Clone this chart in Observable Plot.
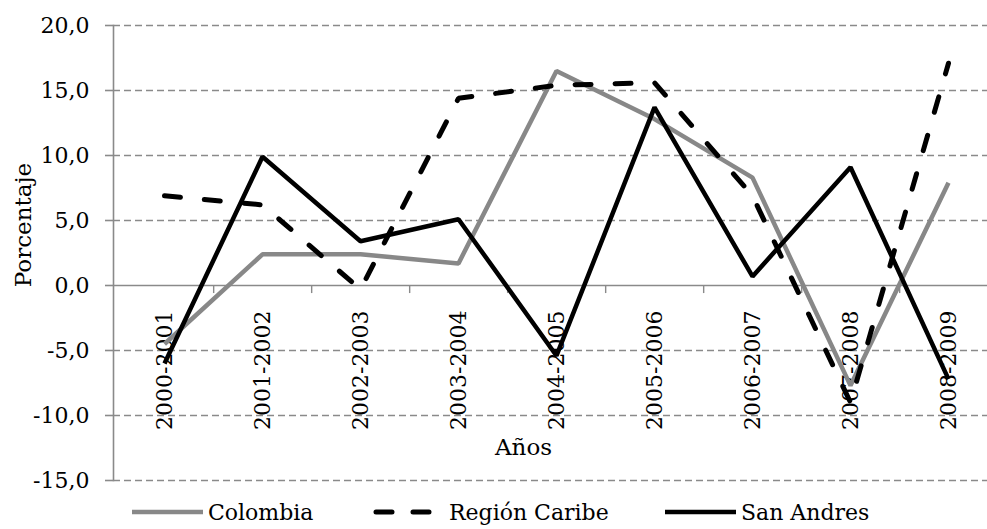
<!DOCTYPE html>
<html>
<head>
<meta charset="utf-8">
<script src="https://cdn.jsdelivr.net/npm/d3@7"></script>
<script src="https://cdn.jsdelivr.net/npm/@observablehq/plot@0.6"></script>
<style>
  body { margin: 0; background: #fff; font-family: "DejaVu Serif", serif; }
  #wrap { position: relative; width: 987px; height: 529px; overflow: hidden; }
  #legend { position: absolute; left: 0; top: 495px; width: 987px; height: 34px; font-size: 22px; color: #000; }
  .item { position: absolute; top: 0; display: flex; align-items: center; height: 34px; white-space: nowrap; }
  .item svg { margin-right: 5px; }
</style>
</head>
<body>
<div id="wrap"><div id="chart"></div><div id="legend"></div></div>
<script>
const years = ["2000-2001","2001-2002","2002-2003","2003-2004","2004-2005","2005-2006","2006-2007","2007-2008","2008-2009"];
const colombia = [-4.5, 2.4, 2.4, 1.7, 16.5, 12.8, 8.3, -7.7, 7.9];
const caribe = [6.9, 6.2, -0.3, 14.4, 15.4, 15.6, 6.9, -9.0, 17.1];
const sanAndres = [-6.0, 9.9, 3.4, 5.1, -5.4, 13.7, 0.7, 9.1, -7.2];
const seriesNames = ["Colombia", "Región Caribe", "San Andres"];
const yTicks = [-15, -10, -5, 0, 5, 10, 15, 20];

const styles = {
  "Colombia": {stroke: "#888888", strokeWidth: 4.5, dash: null},
  "Región Caribe": {stroke: "#000000", strokeWidth: 5, dash: "16,24"},
  "San Andres": {stroke: "#000000", strokeWidth: 4.5, dash: null}
};
const seriesValues = [colombia, caribe, sanAndres];
const rows = seriesNames.map((name, i) => years.map((y, j) => ({serie: name, year: y, value: seriesValues[i][j]})));

const fmt = d => d.toFixed(1).replace(".", ",");
const step = (998 - 113) / years.length;
const serif = '"DejaVu Serif", serif';

const chart = Plot.plot({
  width: 987,
  height: 495,
  marginLeft: 113,
  marginRight: 0,
  marginTop: 25,
  marginBottom: 15,
  style: {fontFamily: serif, fontSize: "22px", background: "#fff", color: "#000", overflow: "hidden"},
  x: {type: "point", domain: years, range: [113, 998], padding: 0.5, axis: null},
  y: {domain: [-15, 20], axis: null},
  marks: [
    Plot.ruleY(yTicks.filter(d => d !== 0), {stroke: "#8a8a8a", strokeWidth: 1.6, strokeDasharray: "7,4"}),
    Plot.ruleY([0], {stroke: "#8a8a8a", strokeWidth: 1.6}),
    Plot.ruleX(years, {x: d => d, y1: 0, y2: -0.62, dx: step / 2, stroke: "#8a8a8a", strokeWidth: 1.4}),
    Plot.frame({anchor: "left", stroke: "#8a8a8a", strokeWidth: 1.6}),
    Plot.axisY({ticks: yTicks, tickFormat: fmt, tickSize: 8, tickPadding: 16, stroke: "#8a8a8a", strokeWidth: 1.6, fill: "#000", label: null}),
    Plot.text(years, {x: d => d, y: d => 0, text: d => d, rotate: -90, textAnchor: "end", dy: 25, fill: "#000"}),
    ...rows.map((data, i) => {
      const s = styles[seriesNames[i]];
      return Plot.line(data, {x: "year", y: "value", stroke: s.stroke, strokeWidth: s.strokeWidth,
        strokeDasharray: s.dash || undefined, strokeLinecap: s.dash ? "round" : "butt", strokeLinejoin: "miter"});
    }),
    Plot.text(["Porcentaje"], {frameAnchor: "left", text: d => d, rotate: -90, textAnchor: "middle", lineAnchor: "middle", dx: -90, dy: -28, fill: "#000", fontSize: 23}),
    Plot.text(["Años"], {frameAnchor: "bottom", text: d => d, textAnchor: "middle", lineAnchor: "middle", dx: -27, dy: -33, fill: "#000", fontSize: 23})
  ]
});
document.getElementById("chart").appendChild(chart);

const legendPos = {"Colombia": 132, "Región Caribe": 373, "San Andres": 665};
const legend = document.getElementById("legend");
seriesNames.forEach(name => {
  const s = styles[name];
  const item = document.createElement("div");
  item.className = "item";
  item.style.left = legendPos[name] + "px";
  const w = name === "Región Caribe" ? 60 : 71;
  const ns = "http://www.w3.org/2000/svg";
  const svg = document.createElementNS(ns, "svg");
  svg.setAttribute("width", w);
  svg.setAttribute("height", 10);
  if (name === "Región Caribe") svg.style.marginRight = "16px";
  const line = document.createElementNS(ns, "line");
  line.setAttribute("x1", s.dash ? 3 : 0);
  line.setAttribute("x2", s.dash ? w - 3 : w);
  line.setAttribute("y1", 5);
  line.setAttribute("y2", 5);
  line.setAttribute("stroke", s.stroke);
  line.setAttribute("stroke-width", s.strokeWidth);
  if (s.dash) { line.setAttribute("stroke-dasharray", "16,21"); line.setAttribute("stroke-linecap", "round"); }
  svg.appendChild(line);
  const label = document.createElement("span");
  label.textContent = name;
  item.appendChild(svg);
  item.appendChild(label);
  legend.appendChild(item);
});
</script>
</body>
</html>
